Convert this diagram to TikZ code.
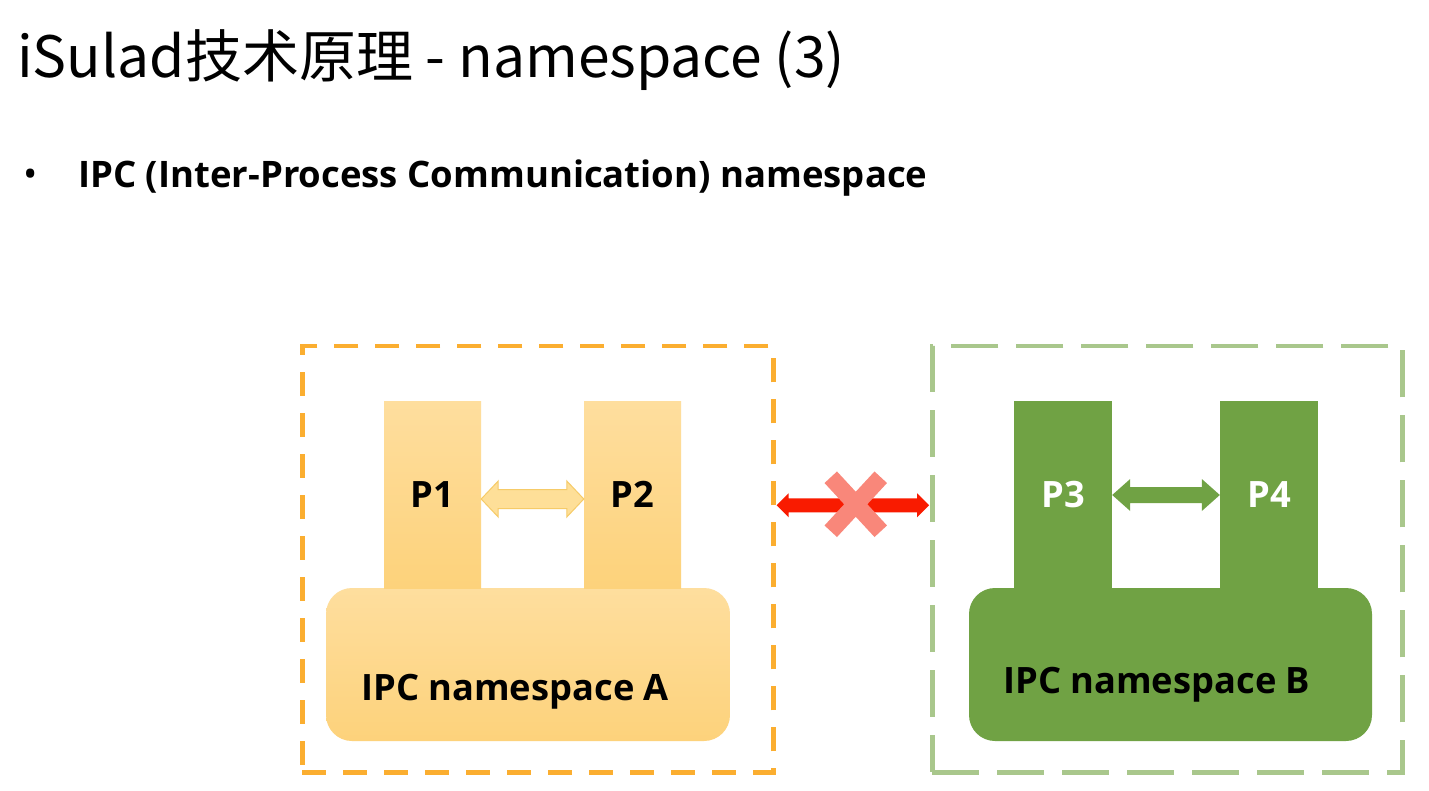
\documentclass[tikz,border=0pt]{standalone}
\usepackage{fontspec}
\setmainfont{Open Sans}
\newfontfamily\cjk{Noto Sans CJK SC}
\usetikzlibrary{calc}
\definecolor{orangedash}{HTML}{FBAE30}
\definecolor{greendash}{HTML}{A9C78C}
\definecolor{ytop}{HTML}{FEDE9E}
\definecolor{ybot}{HTML}{FDD27B}
\definecolor{gfill}{HTML}{70A244}
\definecolor{redarr}{HTML}{F91B00}
\definecolor{crossc}{HTML}{F9877A}
\definecolor{yarrfill}{HTML}{FEDF98}
\definecolor{yarrline}{HTML}{F6CB68}
\newcommand\dblarrow[6]{%
 \path[#1] let \p1=(#2), \p2=(#3) in
 (\x1,\y1) -- (\x1+#6pt,\y1+#5pt) -- (\x1+#6pt,\y1+#4pt) -- (\x2-#6pt,\y2+#4pt) -- (\x2-#6pt,\y2+#5pt) -- (\x2,\y2) -- (\x2-#6pt,\y2-#5pt) -- (\x2-#6pt,\y2-#4pt) -- (\x1+#6pt,\y1-#4pt) -- (\x1+#6pt,\y1-#5pt) -- cycle;}
\begin{document}
\begin{tikzpicture}[x=1pt,y=-1pt,
  lbl/.style={font=\bfseries\fontsize{36.3}{40}\selectfont, inner sep=0pt},
  boxa/.style={draw=orangedash, line width=4.5pt, dash pattern=on 24pt off 17pt, minimum width=471pt, minimum height=426pt, anchor=north west, inner sep=0pt},
  boxb/.style={draw=greendash, line width=4.5pt, dash pattern=on 47pt off 18pt, minimum width=470pt, minimum height=426pt, anchor=north west, inner sep=0pt},
  yproc/.style={top color=ytop, bottom color=ybot, minimum width=97pt, minimum height=187pt, inner sep=0pt, lbl},
  gproc/.style={fill=gfill, minimum width=98pt, minimum height=187pt, inner sep=0pt, lbl, text=white},
  ybase/.style={top color=ytop, bottom color=ybot, rounded corners=26pt, minimum width=404pt, minimum height=153pt, inner sep=0pt},
  gbase/.style={fill=gfill, rounded corners=26pt, minimum width=403pt, minimum height=153pt, inner sep=0pt},
  yarrow/.style={fill=yarrfill, draw=yarrline, line width=1pt},
  garrow/.style={fill=gfill},
  rarrow/.style={fill=redarr},
  crossline/.style={draw=crossc, line width=17pt}
]
\useasboundingbox (0,0) rectangle (1429,791);
\fill[white] (0,0) rectangle (1429,791);

\node[anchor=base west, inner sep=0pt, font=\cjk\fontsize{57}{66}\selectfont] (title) at (17,78) {iSulad技术原理 - namespace (3)};
\node[anchor=base, inner sep=0pt, font=\fontsize{38}{40}\selectfont] (bullet) at (31,188) {•};
\node[anchor=base west, inner sep=0pt, font=\bfseries\fontsize{36.5}{40}\selectfont] (sub) at (78,188) {IPC (Inter-Process Communication) namespace};

\node[boxa] (boxA) at (300,344) {};
\node[boxb] (boxB) at (930,344) {};

% namespace A
\node[ybase] (baseA) at (528,664.5) {};
\node[yproc] (p1) at (432.5,494.5) {P1};
\node[yproc] (p2) at (632.5,494.5) {P2};
\node[lbl, anchor=base west] (labA) at (361,700) {IPC namespace A};

% namespace B
\node[gbase] (baseB) at (1170.5,664.5) {};
\node[gproc] (p3) at (1063,494.5) {P3};
\node[gproc] (p4) at (1269,494.5) {P4};
\node[lbl, anchor=base west] (labB) at (1003,693) {IPC namespace B};

% arrows
\dblarrow{yarrow}{$(p1.east)+(0,4.5)$}{$(p2.west)+(0,4.5)$}{9.5}{18}{17}
\dblarrow{garrow}{$(p3.east)+(0,0.5)$}{$(p4.west)+(0,0.5)$}{8}{16}{18}
\dblarrow{rarrow}{$(boxA.east)+(1,-54)$}{$(boxB.west)+(-1,-54)$}{7}{12}{12}

% cross
\coordinate (xc) at ($(boxA.east)!0.5!(boxB.west)+(3,-55)$);
\draw[crossline] ($(xc)+(-25,-27)$) -- ($(xc)+(25,27)$);
\draw[crossline] ($(xc)+(25,-27)$) -- ($(xc)+(-25,27)$);
\end{tikzpicture}
\end{document}
